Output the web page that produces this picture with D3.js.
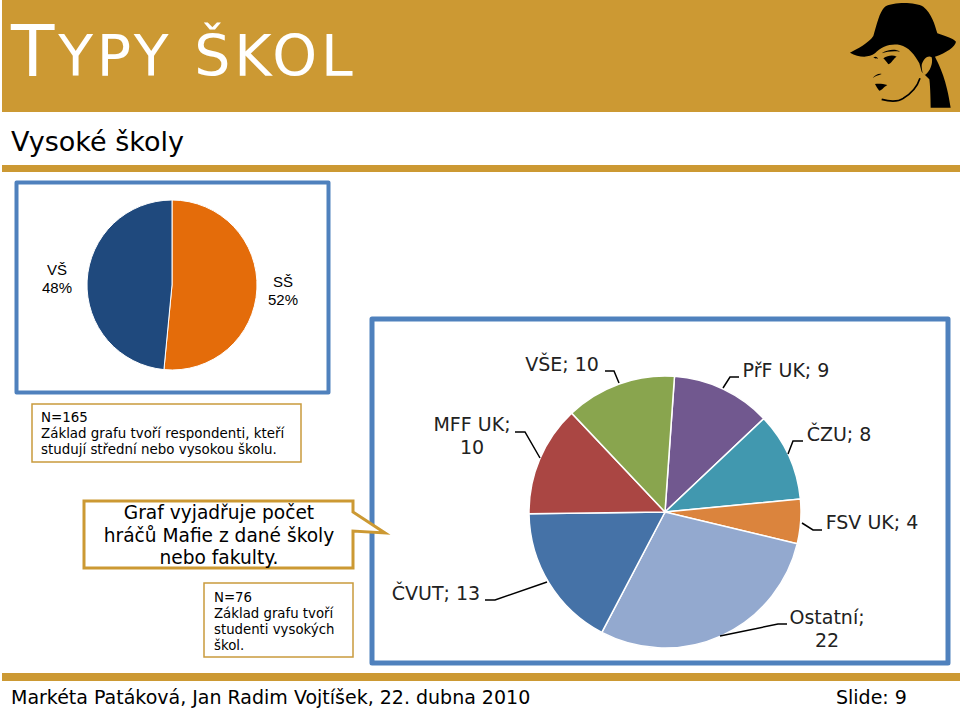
<!DOCTYPE html>
<html>

<head>
    <meta charset="utf-8">
    <style>
        html, body {
            margin: 0;
            padding: 0;
            background: white;
        }

        svg {
            display: block;
        }
    </style>
</head>

<body>
    <svg width="960" height="709"></svg>

    <script src="https://d3js.org/d3.v7.min.js"></script>
    <script>
        // left pie: respondents by school type (N=165)
        let schoolNames = ["SŠ", "VŠ"];
        let schoolCounts = [85, 80];

        // right pie: Mafia players by school or faculty (N=76)
        let facultyNames = ["PřF UK", "ČZU", "FSV UK", "Ostatní", "ČVUT", "MFF UK", "VŠE"];
        let facultyCounts = [9, 8, 4, 22, 13, 10, 10];
        let facultyColors = ["#71588f", "#4198af", "#db843d", "#93a9cf", "#4572a7", "#aa4643", "#89a54e"];

        let gold = "#cc9933";
        let frameBlue = "#4f81bd";
        let uiFont = "'DejaVu Sans', Verdana, sans-serif";

        let svg = d3.select("svg");

        // header + rules
        svg.append("rect").attr("x", 2).attr("y", 0).attr("width", 958).attr("height", 112).style("fill", gold);
        svg.append("rect").attr("x", 2).attr("y", 165).attr("width", 958).attr("height", 7).style("fill", gold);
        svg.append("rect").attr("x", 2).attr("y", 673).attr("width", 958).attr("height", 8).style("fill", gold);

        let title = svg.append("text")
            .attr("x", 11).attr("y", 76)
            .style("font-family", uiFont).style("fill", "white").style("letter-spacing", "3.8px");
        title.append("tspan").style("font-size", "71px").text("T");
        title.append("tspan").style("font-size", "57px").text("YPY ŠKOL");

        svg.append("text").attr("x", 11).attr("y", 151)
            .style("font-family", uiFont).style("font-size", "27px").style("fill", "black")
            .text("Vysoké školy");

        // frames
        svg.append("rect").attr("x", 16.5).attr("y", 182.5).attr("width", 312).attr("height", 210)
            .style("fill", "white").style("stroke", frameBlue).style("stroke-width", 4).style("stroke-linejoin", "round");
        svg.append("rect").attr("x", 372).attr("y", 319).attr("width", 576).attr("height", 344)
            .style("fill", "white").style("stroke", frameBlue).style("stroke-width", 5).style("stroke-linejoin", "round");

        // left pie
        let pie = d3.pie().sort(null);
        let leftArc = d3.arc().innerRadius(0).outerRadius(85);
        let leftColors = d3.scaleOrdinal().domain(schoolNames).range(["#e46c0a", "#1f497d"]);
        let leftG = svg.append("g").attr("transform", "translate(172,285)");
        leftG.selectAll("path")
            .data(pie(schoolCounts))
            .join("path")
            .attr("d", leftArc)
            .style("fill", (d, i) => leftColors(schoolNames[i]))
            .style("stroke", "white")
            .style("stroke-width", 1);

        let total = d3.sum(schoolCounts);
        let leftLabels = [[283, 287], [57, 275]];
        leftLabels.forEach((p, i) => {
            let t = svg.append("text")
                .attr("text-anchor", "middle")
                .style("font-family", "'Liberation Sans', Arial, sans-serif")
                .style("font-size", "15px");
            t.append("tspan").attr("x", p[0]).attr("y", p[1]).text(schoolNames[i]);
            t.append("tspan").attr("x", p[0]).attr("dy", 18).text(d3.format(".0f")(schoolCounts[i] / total * 100) + "%");
        });

        // right pie
        let rightPie = d3.pie().sort(null)
            .startAngle(4 * Math.PI / 180)
            .endAngle(364 * Math.PI / 180);
        let rightArc = d3.arc().innerRadius(0).outerRadius(136);
        let rightG = svg.append("g").attr("transform", "translate(665,512)");
        rightG.selectAll("path")
            .data(rightPie(facultyCounts))
            .join("path")
            .attr("d", rightArc)
            .style("fill", (d, i) => facultyColors[i])
            .style("stroke", "white")
            .style("stroke-width", 1.5);

        // leader lines and labels, same order as facultyNames
        let leaders = [
            [[723, 388], [730, 377], [739, 377]],
            [[788, 454], [793, 441], [803, 441]],
            [[802, 523], [813, 530], [822, 530]],
            [[720, 636], [778, 624], [787, 624]],
            [[547, 582], [495, 600], [485, 600]],
            [[540, 458], [525, 432], [515, 432]],
            [[619, 383], [614, 371], [605, 371]]
        ];
        let labelLines = [
            { x: 786, y: 377, lines: n => [n[0] + "; " + n[1]] },
            { x: 839, y: 441, lines: n => [n[0] + "; " + n[1]] },
            { x: 872, y: 529, lines: n => [n[0] + "; " + n[1]] },
            { x: 827, y: 624, lines: n => [n[0] + ";", n[1]] },
            { x: 436, y: 600, lines: n => [n[0] + "; " + n[1]] },
            { x: 472, y: 431, lines: n => [n[0] + ";", n[1]] },
            { x: 562, y: 371, lines: n => [n[0] + "; " + n[1]] }
        ];
        let line = d3.line();
        leaders.forEach(l => {
            svg.append("path").attr("d", line(l)).style("fill", "none").style("stroke", "black").style("stroke-width", 1.5);
        });
        labelLines.forEach((l, i) => {
            let t = svg.append("text")
                .attr("text-anchor", "middle")
                .style("font-family", uiFont)
                .style("font-size", "19px")
                .style("fill", "#222");
            l.lines([facultyNames[i], facultyCounts[i]]).forEach((s, j) => {
                t.append("tspan").attr("x", l.x).attr("y", l.y + j * 23).text(s);
            });
        });

        // note boxes
        function noteBox(x, y, w, h, stroke, lines, size, lineH, tx, ty) {
            svg.append("rect").attr("x", x).attr("y", y).attr("width", w).attr("height", h)
                .style("fill", "white").style("stroke", stroke).style("stroke-width", 1.5);
            let t = svg.append("text").style("font-family", uiFont).style("font-size", size + "px");
            lines.forEach((s, i) => {
                t.append("tspan").attr("x", tx).attr("y", ty + i * lineH).text(s);
            });
        }
        noteBox(32, 404, 269, 58, "#c99a3c",
            ["N=165", "Základ grafu tvoří respondenti, kteří", "studují střední nebo vysokou školu."],
            13.4, 16.2, 41, 421.5);
        noteBox(204, 583, 149, 74, "#c99a3c",
            ["N=76", "Základ grafu tvoří", "studenti vysokých", "škol."],
            13.3, 16, 214, 601.5);

        // callout
        svg.append("path")
            .attr("d", "M84,501 L353,501 L353,512 L385,533 L353,531 L353,568 L84,568 Z")
            .style("fill", "white").style("stroke", gold).style("stroke-width", 3);
        let callout = ["Graf vyjadřuje počet", "hráčů Mafie z dané školy", "nebo fakulty."];
        callout.forEach((s, i) => {
            svg.append("text").attr("x", 219).attr("y", 519 + i * 22.5)
                .attr("text-anchor", "middle")
                .style("font-family", uiFont).style("font-size", "18.6px")
                .text(s);
        });

        // footer
        svg.append("text").attr("x", 11).attr("y", 704)
            .style("font-family", uiFont).style("font-size", "19px")
            .text("Markéta Patáková, Jan Radim Vojtíšek, 22. dubna 2010");
        svg.append("text").attr("x", 836).attr("y", 704)
            .style("font-family", uiFont).style("font-size", "19px")
            .text("Slide: 9");

        // logo silhouette, drawn in 3x units from the top right corner
        let logo = svg.append("g").attr("transform", "translate(840,0) scale(0.3333)");
        logo.append("path")
            .attr("d", "M30,158 C55,145 85,130 100,108 C110,75 118,35 135,20 C160,5 225,5 250,20 C275,40 285,75 292,100 C315,108 340,115 348,125 C345,140 320,158 285,170 C300,200 320,240 332,323 L272,323 C272,290 270,250 268,238 L245,215 L238,190 C225,165 205,140 180,135 C150,130 125,140 105,160 C85,175 55,172 30,158 Z")
            .style("fill", "black");
        logo.append("path")
            .attr("d", "M245,195 C250,175 265,165 275,172 C280,190 270,215 255,225 C248,225 245,210 245,195 Z")
            .style("fill", gold);
        logo.append("path")
            .attr("d", "M240,235 C232,260 215,280 190,295 C175,305 150,305 125,298")
            .style("fill", "none").style("stroke", "black").style("stroke-width", 5);
        logo.append("path")
            .attr("d", "M125,160 C140,150 165,145 180,155 C160,152 140,155 125,160 Z M130,175 C145,165 160,165 170,170 C160,175 155,190 145,193 C140,185 135,180 130,175 Z M100,172 C106,168 112,170 114,176 C110,176 104,176 100,172 Z M98,235 C105,225 115,220 125,222 C115,226 105,228 98,235 Z M105,252 C118,250 130,252 142,255 C130,262 125,272 118,272 C112,265 108,258 105,252 Z")
            .style("fill", "black");
    </script>
</body>

</html>
